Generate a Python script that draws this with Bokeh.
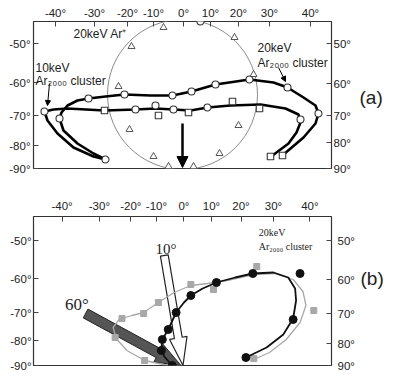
import numpy as np
from bokeh.plotting import figure
from bokeh.models import Range1d, LinearAxis, FixedTicker, Label, Arrow, NormalHead
from bokeh.layouts import column
from bokeh.embed import file_html
from bokeh.resources import INLINE

# ---------------- Panel (a): projected plane coordinates ----------------
a_top_ticks = [-127, -88, -55, -29, 1, 28, 56, 87, 128]
a_top_labels = ["-40°", "-30°", "-20°", "-10°", "0°", "10°", "20°", "30°", "40°"]
a_left_ticks = [0, 23, 53, 86, 125]
a_left_labels = ["-90°", "-80°", "-70°", "-60°", "-50°"]
a_right_ticks = [0, 26, 53, 85, 125]
a_right_labels = ["90°", "80°", "70°", "60°", "50°"]

# 20 keV Ar+ monomer ions (triangles)
ar_ion_x = [-19, -51, -64, -53, -29, -14, 11, 37, 56, 71, 52]
ar_ion_y = [141, 122, 82, 39, 12, 2, 2, 15, 43, 94, 131]

# cluster data points
clu_circ_x = [-138, -123, -77, -94, -58, -10, 9, 33, 67, 105, 136, -47, -27, -9, 25, 118, 18]
clu_circ_y = [57, 50, 9, 70, 74, 73, 77, 84, 89, 81, 55, 59, 63, 59, 61, 49, 147]
clu_sq_x = [-78, -24, 6, 50, 77, 88, 100]
clu_sq_y = [58, 53, 56, 67, 60, 12, 13]

# 20 keV Ar2000 cluster curve
c20_x = [-77, -89, -105, -119, -123, -121, -115, -105, -94, -77, -58, -32, -10, 9, 33, 67, 91, 105, 121, 133, 136, 133, 121, 101]
c20_y = [9, 15, 25, 38, 50, 56, 63, 68, 70, 72, 74, 73, 73, 77, 84, 89, 86, 81, 71, 63, 55, 45, 31, 14]
# 10 keV Ar2000 cluster curve
c10_x = [-77, -89, -109, -125, -135, -138, -129, -115, -78, -47, -27, -9, 8, 25, 48, 78, 103, 116, 118, 114, 106, 90]
c10_y = [9, 12, 21, 35, 48, 57, 59, 60, 58, 59, 60, 59, 58, 61, 63, 64, 60, 54, 46, 36, 25, 13]

# ---------------- Panel (b) ----------------
b_top_ticks = [-123, -85, -53, -27, 1, 29, 59, 92, 129]
b_top_labels = ["-40°", "-30°", "-20°", "-10°", "0°", "10°", "20°", "30°", "40°"]
b_left_ticks = [0, 25, 53, 87, 125]
b_left_labels = ["-90°", "-80°", "-70°", "-60°", "-50°"]
b_right_ticks = [0, 22, 52, 86, 125]
b_right_labels = ["90°", "80°", "70°", "60°", "50°"]

b10_dot_x = [-11, -22, -21, -15, -7, 8, 34, 71, 119, 112, 64]
b10_dot_y = [0, 15, 26, 36, 53, 70, 83, 92, 92, 46, 8]
b10_line_x = [-11, -19, -22, -21, -15, -7, 1, 8, 20, 34, 53, 71, 92, 107, 114, 115, 112, 102, 85, 64]
b10_line_y = [0, 9, 17, 26, 36, 53, 63, 70, 77, 83, 88, 92, 93, 88, 77, 65, 47, 31, 18, 8]

b60_sq_x = [8, -25, -40, -62, -69, -39, 31, 75, 133, 72]
b60_sq_y = [81, 63, 52, 47, 28, 5, 76, 99, 55, 7]
b60_line_x = [0, -20, -39, -57, -68, -71, -65, -52, -40, -25, -9, 8, 25, 45, 72, 93, 112, 122, 125, 119, 105, 88, 72]
b60_line_y = [-1, 1, 5, 15, 27, 38, 46, 50, 53, 63, 73, 80, 82, 85, 91, 92, 86, 74, 60, 43, 26, 13, 6]

# beam incidence directions (tail -> tip)
beam10 = (-19, 110, 0, 0)
beam60 = (-99, 52, -2, 0)

FONT = "Liberation Sans"
SERIF = "Liberation Serif"
TXT = "#222222"


def style_axis(ax, standoff, size="11.5px"):
    ax.major_tick_in = 5
    ax.major_tick_out = 0
    ax.minor_tick_in = 0
    ax.minor_tick_out = 0
    ax.major_label_standoff = standoff
    ax.axis_line_color = None
    ax.major_tick_line_color = "#444444"
    ax.major_label_text_font = FONT
    ax.major_label_text_font_size = size
    ax.major_label_text_color = TXT


def add_axes(p, specs, panel_label, label_y, label_standoff):
    for loc, ticks, labels, standoff in specs:
        ax = LinearAxis(ticker=FixedTicker(ticks=ticks),
                        major_label_overrides={t: l for t, l in zip(ticks, labels)})
        style_axis(ax, standoff)
        p.add_layout(ax, loc)
    # panel tag "(a)" / "(b)" drawn as the single label of an extra right axis
    lab = LinearAxis(ticker=FixedTicker(ticks=[label_y]),
                     major_label_overrides={label_y: panel_label})
    style_axis(lab, label_standoff, size="19px")
    lab.major_tick_in = 0
    lab.major_tick_line_color = None
    p.add_layout(lab, "right")


def base_fig(w, h, xr, yr, bl, br, bt, bb):
    p = figure(width=w, height=h, x_range=Range1d(*xr), y_range=Range1d(*yr),
               output_backend="svg", toolbar_location=None,
               x_axis_location=None, y_axis_location=None,
               min_border_left=bl, min_border_right=br, min_border_top=bt, min_border_bottom=bb)
    p.grid.visible = False
    p.outline_line_color = "#333333"
    p.outline_line_width = 1.2
    p.background_fill_color = "white"
    p.border_fill_color = "white"
    return p


def arrow_poly(x0, y0, x1, y1, shaft_w, head_w, head_l):
    dx, dy = x1 - x0, y1 - y0
    L = np.hypot(dx, dy)
    ux, uy = dx / L, dy / L
    nx, ny = -uy, ux
    bx, by = x1 - ux * head_l, y1 - uy * head_l
    xs = [x0 + nx * shaft_w / 2, bx + nx * shaft_w / 2, bx + nx * head_w / 2, x1,
          bx - nx * head_w / 2, bx - nx * shaft_w / 2, x0 - nx * shaft_w / 2]
    ys = [y0 + ny * shaft_w / 2, by + ny * shaft_w / 2, by + ny * head_w / 2, y1,
          by - ny * head_w / 2, by - ny * shaft_w / 2, y0 - ny * shaft_w / 2]
    return xs, ys


# ---------------- build panel (a) ----------------
pa = base_fig(398, 195, (-149, 149), (0, 147), 33, 67, 21, 27)
add_axes(pa, [("above", a_top_ticks, a_top_labels, 3),
              ("left", a_left_ticks, a_left_labels, 3),
              ("right", a_right_ticks, a_right_labels, 2)],
         "(a)", 71, 6)

pa.ellipse(x=[0], y=[74], width=150, height=150, fill_color=None, line_color="#8a8a8a", line_width=1)
pa.line(c20_x, c20_y, line_color="black", line_width=2.6)
pa.line(c10_x, c10_y, line_color="black", line_width=2.6)
pa.scatter(ar_ion_x, ar_ion_y, marker="triangle", size=7, fill_color="white", line_color="#555555", line_width=1)
pa.scatter(clu_circ_x, clu_circ_y, marker="circle", size=7, fill_color="white", line_color="#333333", line_width=1.1)
pa.scatter(clu_sq_x, clu_sq_y, marker="square", size=6.5, fill_color="white", line_color="#333333", line_width=1.1)

pa.add_layout(Arrow(end=NormalHead(size=11, fill_color="black", line_color="black"),
                    x_start=0, y_start=45, x_end=0, y_end=1, line_width=2.5, line_color="black"))
pa.add_layout(Arrow(end=NormalHead(size=5, fill_color="black", line_color="black"),
                    x_start=-133, y_start=85, x_end=-135, y_end=63, line_width=1, line_color="black"))
pa.add_layout(Arrow(end=NormalHead(size=5, fill_color="black", line_color="black"),
                    x_start=96, y_start=101, x_end=103, y_end=87, line_width=1, line_color="black"))

for txt, x, y in (("20keV Ar⁺", -109, 135), ("10keV", -147, 101), ("Ar₂₀₀₀ cluster", -147, 88),
                  ("20keV", 75, 121), ("Ar₂₀₀₀ cluster", 75, 106)):
    pa.add_layout(Label(x=x, y=y, text=txt, text_font=FONT, text_font_size="12px",
                        text_color=TXT, text_baseline="middle", text_align="left"))

# ---------------- build panel (b) ----------------
pb = base_fig(398, 179, (-152, 151), (0, 149), 33, 62, 21, 9)
add_axes(pb, [("above", b_top_ticks, b_top_labels, 5),
              ("left", b_left_ticks, b_left_labels, 2),
              ("right", b_right_ticks, b_right_labels, 6)],
         "(b)", 87, 3)

gx, gy = arrow_poly(*beam60, shaft_w=10, head_w=20, head_l=26)
pb.patch(gx, gy, fill_color="#555555", line_color="#222222", line_width=1)
wx, wy = arrow_poly(*beam10, shaft_w=8, head_w=18, head_l=28)
pb.patch(wx, wy, fill_color="white", line_color="#222222", line_width=1.2)

pb.line(b60_line_x, b60_line_y, line_color="#a8a8a8", line_width=1.3)
pb.scatter(b60_sq_x, b60_sq_y, marker="square", size=6, fill_color="#a8a8a8", line_color="#a8a8a8")
pb.line(b10_line_x, b10_line_y, line_color="#111111", line_width=1.8)
pb.scatter(b10_dot_x, b10_dot_y, marker="circle", size=8, fill_color="#111111", line_color="#111111")

pb.add_layout(Label(x=-28, y=117, text="10°", text_font=SERIF, text_font_size="15px",
                    text_color=TXT, text_baseline="middle"))
pb.add_layout(Label(x=-120, y=61, text="60°", text_font=SERIF, text_font_size="17px",
                    text_color=TXT, text_baseline="middle"))
pb.add_layout(Label(x=77, y=133, text="20keV", text_font=SERIF, text_font_size="10px",
                    text_color=TXT, text_baseline="middle"))
pb.add_layout(Label(x=77, y=119, text="Ar₂₀₀₀ cluster", text_font=SERIF, text_font_size="10px",
                    text_color=TXT, text_baseline="middle"))

layout = column(pa, pb)
open("out.html", "w").write(file_html(layout, INLINE))
